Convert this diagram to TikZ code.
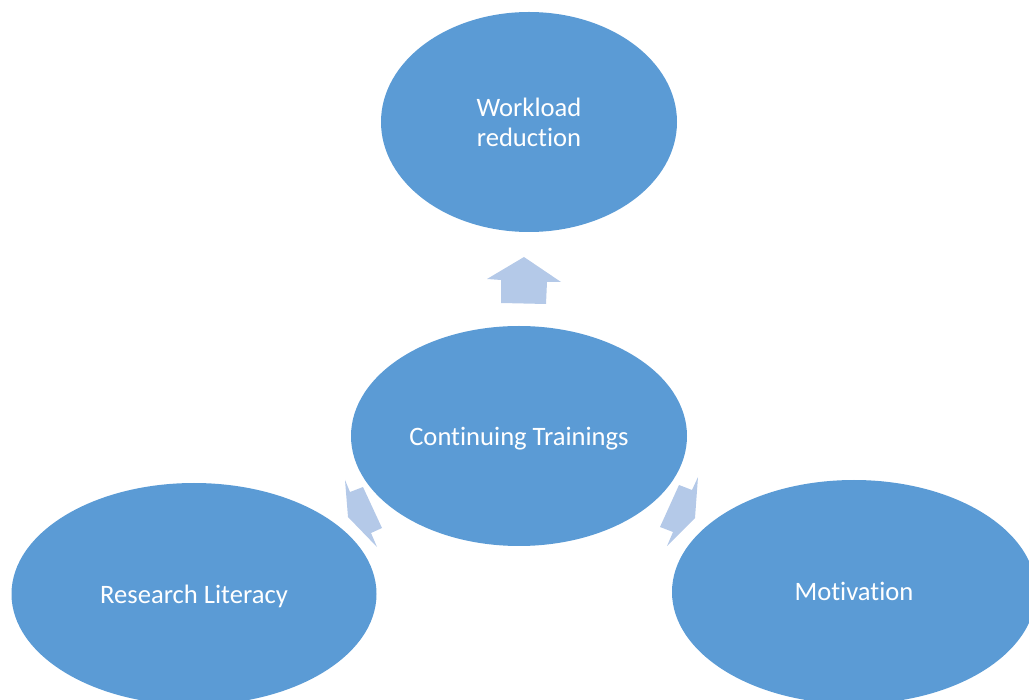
\documentclass[tikz,border=0pt]{standalone}
\usepackage{fontspec}
\setmainfont[Ligatures=NoCommon]{Carlito}
\usetikzlibrary{shapes.geometric}
\definecolor{ellfill}{HTML}{5B9BD5}
\definecolor{arrfill}{HTML}{B4C9E8}
\tikzset{
  bubble/.style={ellipse, fill=ellfill, draw=none, inner sep=0pt},
  bubbletext/.style={text=white, align=center, inner sep=0pt,
    font=\fontsize{26.6pt}{30pt}\selectfont},
  blockarrow/.style={fill=arrfill, draw=none}
}
\begin{document}
\begin{tikzpicture}[x=1pt,y=-1pt]
\useasboundingbox (0,0) rectangle (1029,700);
\begin{scope}
\clip (0,0) rectangle (1029,700);
\node[bubble, minimum width=296pt, minimum height=220pt] (work) at (529,122) {};
\node[bubble, minimum width=336pt, minimum height=220pt] (cont) at (519,436) {};
\node[bubble, minimum width=365pt, minimum height=222pt] (res) at (194,594) {};
\node[bubble, minimum width=364pt, minimum height=224pt] (mot) at (854,592) {};
\node[bubbletext] (worktext) at (work.center) {Workload\\reduction};
\node[bubbletext, yshift=-3pt] (conttext) at (cont.center) {Continuing Trainings};
\node[bubbletext, yshift=-2pt] (restext) at (res.center) {Research Literacy};
\node[bubbletext, yshift=1pt] (mottext) at (mot.center) {Motivation};
% arrows from the centre outward
\fill[blockarrow] (524,257) -- (561,282) -- (547,282) -- (546,304) -- (501,303) -- (501,280) -- (487,279) -- cycle;
\fill[blockarrow] (345,480) -- (350,492) -- (363,487) -- (382,528) -- (371,533) -- (377,547) -- (348,517) -- cycle;
\fill[blockarrow] (698,477) -- (695,518) -- (667,546) -- (673,532) -- (660,527) -- (679,485) -- (692,490) -- cycle;
\end{scope}
\end{tikzpicture}
\end{document}
